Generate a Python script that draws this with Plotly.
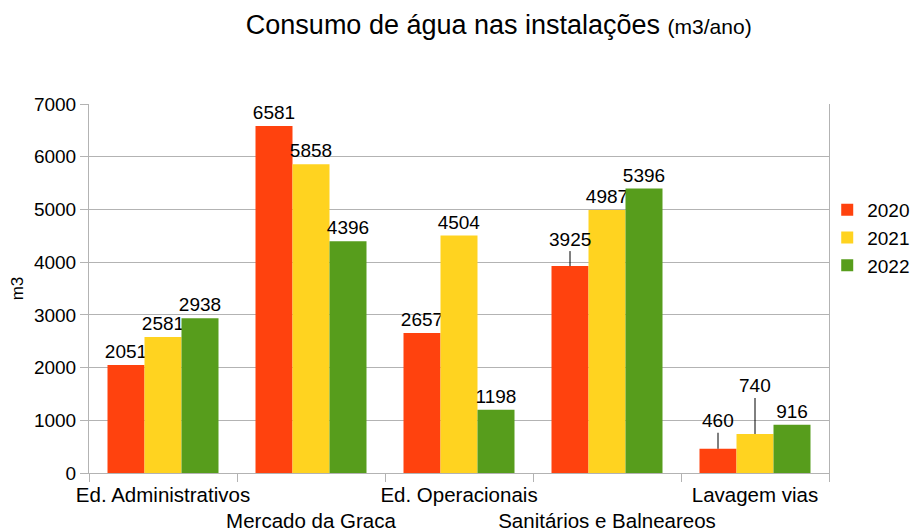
import plotly.graph_objects as go

categories = [
    "Ed. Administrativos",
    "Mercado da Graca",
    "Ed. Operacionais",
    "Sanitários e Balneareos",
    "Lavagem vias",
]
years = ["2020", "2021", "2022"]
values_2020 = [2051, 6581, 2657, 3925, 460]
values_2021 = [2581, 5858, 4504, 4987, 740]
values_2022 = [2938, 4396, 1198, 5396, 916]
y_ticks = [0, 1000, 2000, 3000, 4000, 5000, 6000, 7000]

colors = ["#ff420e", "#ffd320", "#579d1c"]
font = "Liberation Sans, Arial, sans-serif"

# labels that LibreOffice pushed up with a leader line: (year index, category index, pixel lift)
lifted = [(0, 3, -27), (0, 4, -28), (1, 4, -48)]

series = [values_2020, values_2021, values_2022]

fig = go.Figure()
for k, (year, vals) in enumerate(zip(years, series)):
    texts = [str(v) for v in vals]
    for yk, ci, _ in lifted:
        if yk == k:
            texts[ci] = ""
    fig.add_trace(
        go.Bar(
            x=categories,
            y=vals,
            name=year,
            marker=dict(color=colors[k], line=dict(width=0)),
            text=texts,
            textposition="outside",
            constraintext="none",
            textfont=dict(size=19, color="black", family=font),
            cliponaxis=False,
        )
    )

bar_w = 0.25
for yk, ci, lift in lifted:
    fig.add_annotation(
        x=ci + (yk - 1) * bar_w,
        y=series[yk][ci],
        text=str(series[yk][ci]),
        showarrow=True,
        arrowhead=0,
        arrowwidth=1,
        arrowcolor="black",
        ax=0,
        ay=lift,
        font=dict(size=19, color="black", family=font),
    )

# staggered category labels like the original
ticktext = [c if i % 2 == 0 else "<br>" + c for i, c in enumerate(categories)]

fig.update_layout(
    width=919,
    height=531,
    barmode="group",
    bargap=0.25,
    bargroupgap=0,
    paper_bgcolor="white",
    plot_bgcolor="white",
    margin=dict(l=81, r=98, t=96, b=66, autoexpand=False),
    font=dict(family=font, size=19, color="black"),
    title=dict(
        text="Consumo de água nas instalações <span style='font-size:21px'>(m3/ano)</span>",
        x=0.534,
        xanchor="center",
        y=0.968,
        yanchor="middle",
        font=dict(size=27, family=font, color="black"),
    ),
    legend=dict(
        x=0.9976,
        xanchor="left",
        y=0.637,
        yanchor="middle",
        bgcolor="rgba(0,0,0,0)",
        font=dict(size=19, family=font),
        itemwidth=30,
        tracegroupgap=0,
    ),
)

fig.update_xaxes(
    type="category",
    tickmode="array",
    tickvals=categories,
    ticktext=ticktext,
    tickangle=0,
    automargin=False,
    ticklabelstandoff=3,
    tickson="boundaries",
    ticks="outside",
    ticklen=8,
    tickcolor="#b3b3b3",
    showline=True,
    linecolor="#b3b3b3",
    linewidth=1,
    showgrid=False,
    tickfont=dict(size=20.5, family=font),
)

fig.update_yaxes(
    range=[0, 7000],
    tickvals=y_ticks,
    automargin=False,
    ticks="outside",
    ticklen=8,
    tickcolor="#b3b3b3",
    showgrid=True,
    gridcolor="#b3b3b3",
    gridwidth=1,
    showline=True,
    linecolor="#b3b3b3",
    mirror=True,
    zeroline=False,
    title=dict(text="m3", font=dict(size=17, family=font), standoff=14),
    tickfont=dict(size=19, family=font),
)

fig.write_html("out.html")
